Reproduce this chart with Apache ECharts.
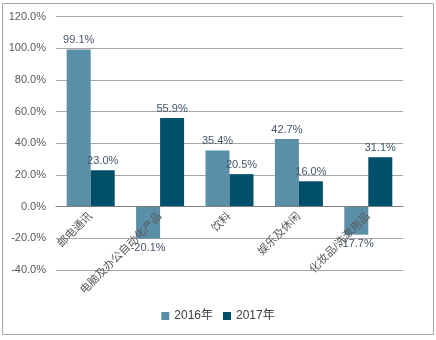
<!DOCTYPE html>
<html>
<head>
<meta charset="utf-8">
<script src="https://cdn.jsdelivr.net/npm/echarts@6/dist/echarts.min.js"></script>
<style>
  html, body { margin: 0; padding: 0; background: #fff; }
  #chart { width: 436px; height: 340px; }
</style>
</head>
<body>
<div id="chart"></div>
<script>
// Categories and year-on-year growth (%) for each year
const categories = ['邮电通讯', '电脑及办公自动化产品', '饮料', '娱乐及休闲', '化妆品/洗漱用品'];
const values2016 = [99.1, -20.1, 35.4, 42.7, -17.7];
const values2017 = [23.0, 55.9, 20.5, 16.0, 31.1];
const seriesNames = ['2016年', '2017年'];

const yMin = -40, yMax = 120, yStep = 20;
const gridTop = 16.5, gridBottom = 70, chartHeight = 340;

const fontFamily = '"Liberation Sans", Arial, "Noto Sans CJK SC", sans-serif';
const pct = v => Number(v).toFixed(1) + '%';

// lift the category axis from the grid bottom up to the zero line
const plotHeight = chartHeight - gridTop - gridBottom;
const zeroLift = plotHeight * (0 - yMin) / (yMax - yMin);

const chart = echarts.init(document.getElementById('chart'));

function barSeries(name, data, color) {
  return {
    name: name,
    type: 'bar',
    // negative bars carry their value label beneath the bar end
    data: data.map(v => v < 0 ? { value: v, label: { position: 'bottom' } } : v),
    barWidth: 24,
    barGap: '0%',
    itemStyle: { color: color },
    label: {
      show: true,
      position: 'top',
      formatter: p => pct(p.value),
      color: '#44546A',
      fontSize: 11,
      fontFamily: fontFamily,
      distance: 4
    }
  };
}

chart.setOption({
  backgroundColor: '#fff',
  animation: false,
  textStyle: { fontFamily: fontFamily },
  graphic: [{
    type: 'rect',
    shape: { x: 2.5, y: 3.5, width: 431, height: 331 },
    style: { fill: 'none', stroke: '#a6a6a6', lineWidth: 1 },
    silent: true
  }],
  grid: {
    left: 56, right: 33, top: gridTop, bottom: gridBottom,
    containLabel: false,
    outerBoundsMode: 'none'
  },
  legend: {
    data: seriesNames,
    bottom: 13,
    left: 'center',
    icon: 'rect',
    itemWidth: 8,
    itemHeight: 8,
    itemGap: 10,
    textStyle: { color: '#404040', fontSize: 12, fontFamily: fontFamily }
  },
  xAxis: {
    type: 'category',
    data: categories,
    offset: -zeroLift,
    z: 10,
    axisLine: { onZero: false, lineStyle: { color: '#808080', width: 1 } },
    axisTick: { show: false },
    axisLabel: {
      rotate: 45,
      interval: 0,
      color: '#595959',
      fontSize: 11,
      fontFamily: fontFamily,
      margin: 8
    }
  },
  yAxis: {
    type: 'value',
    min: yMin,
    max: yMax,
    interval: yStep,
    axisLine: { show: false },
    axisTick: { show: false },
    splitLine: { lineStyle: { color: '#a6a6a6', width: 1 } },
    axisLabel: {
      formatter: v => pct(v),
      color: '#595959',
      fontSize: 11,
      fontFamily: fontFamily,
      margin: 10
    }
  },
  series: [
    barSeries(seriesNames[0], values2016, '#5B8FA8'),
    barSeries(seriesNames[1], values2017, '#00506B')
  ]
});
</script>
</body>
</html>
